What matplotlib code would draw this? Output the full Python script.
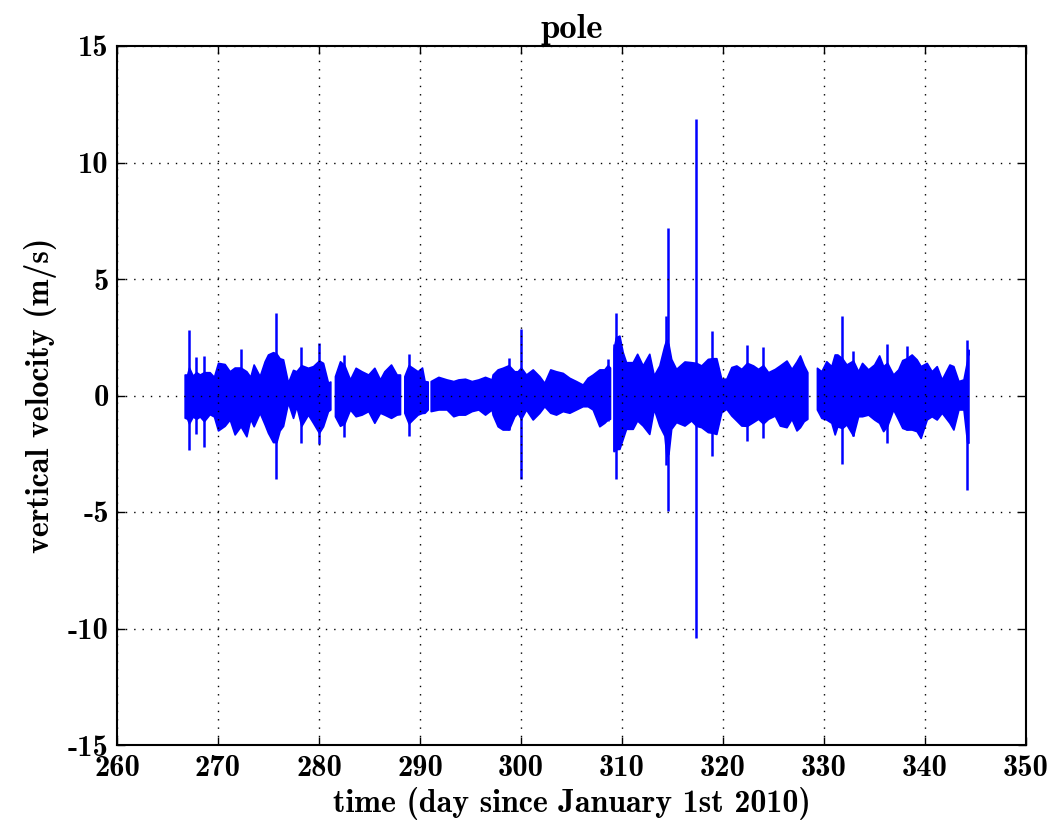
import numpy as np
import matplotlib
matplotlib.use("Agg")
import matplotlib.pyplot as plt

# ---- data (day, upper envelope, lower envelope) ----
env_t = [266.70, 266.95, 267.13, 267.50, 267.85, 268.20, 268.61, 269.17, 269.60, 270.00,
         270.66, 271.16, 271.65, 272.24, 272.81, 273.20, 273.53, 274.13, 274.62, 274.95,
         275.45, 275.78, 276.10, 276.44, 276.93, 277.43, 277.76, 278.25, 278.91, 279.41,
         280.00, 280.40, 280.89, 281.12,
         281.58, 282.08, 282.51, 283.07, 283.63, 284.22, 284.88, 285.48, 286.04, 286.47,
         287.13, 287.69, 288.02,
         288.45, 288.88, 289.27, 289.77, 290.20, 290.45, 290.76,
         291.06, 291.82, 292.64, 293.30, 293.80, 294.46, 295.12, 295.78, 296.44, 297.10,
         297.19, 297.69, 298.18, 298.78, 299.34, 299.67, 300.00, 300.50, 301.16, 301.82,
         302.31, 302.90, 303.47, 304.13, 304.79, 305.45, 306.11, 306.60, 307.10, 307.76,
         308.25, 308.58, 308.81,
         309.17, 309.40, 309.74, 310.07, 310.40, 311.06, 311.50, 312.05, 312.70, 313.15,
         313.70, 314.20, 314.40, 314.60, 314.87, 315.36, 316.19, 316.85, 317.35, 317.85,
         318.50, 318.94, 319.34, 319.83, 320.33, 320.83, 321.32, 321.82, 322.38, 322.98,
         323.48, 323.97, 324.47, 325.13, 325.63, 326.29, 326.79, 327.28, 327.62, 328.00,
         328.35,
         329.30, 329.74, 330.23, 330.73, 331.06, 331.32, 331.79, 332.22, 332.88, 333.38,
         333.77, 334.37, 334.97, 335.46, 335.86, 336.26, 336.85, 337.35, 337.75, 338.18,
         338.68, 339.17, 339.57, 340.17, 340.66, 341.16, 341.66, 342.42, 342.81, 343.31,
         343.81, 344.17, 344.30]
env_up = [0.90, 0.90, 1.20, 0.85, 1.00, 0.90, 1.00, 1.00, 0.80, 1.40,
          1.35, 1.04, 1.20, 1.20, 1.04, 0.80, 1.33, 0.83, 1.47, 1.76,
          1.86, 1.80, 1.60, 1.55, 0.55, 1.10, 1.04, 1.30, 1.19, 1.26,
          1.50, 1.40, 0.55, 0.60,
          0.83, 1.47, 1.30, 0.69, 1.19, 1.04, 0.90, 1.19, 0.69, 1.04,
          1.33, 0.90, 0.90,
          0.83, 1.30, 1.19, 1.04, 1.20, 0.62, 0.60,
          0.62, 0.80, 0.69, 0.62, 0.69, 0.72, 0.62, 0.69, 0.80, 0.69,
          0.90, 1.12, 1.19, 1.30, 1.04, 1.04, 1.20, 0.90, 1.12, 0.83,
          0.54, 1.12, 1.04, 0.97, 0.76, 0.62, 0.47, 0.76, 0.90, 1.12,
          1.12, 1.30, 1.20,
          2.00, 2.50, 2.57, 1.86, 1.43, 1.43, 1.79, 1.29, 1.79, 0.86,
          1.29, 2.15, 2.40, 2.20, 1.57, 1.14, 1.46, 1.43, 1.40, 1.29,
          1.57, 1.60, 1.60, 0.72, 0.72, 1.22, 1.29, 1.14, 1.40, 1.29,
          1.14, 1.30, 1.00, 1.14, 1.29, 1.50, 1.14, 1.46, 1.72, 1.30,
          1.00,
          1.19, 1.04, 1.47, 1.26, 1.76, 1.76, 1.60, 1.33, 1.50, 1.04,
          1.40, 1.12, 1.33, 1.72, 1.26, 1.40, 0.90, 1.12, 1.52, 1.60,
          1.76, 1.55, 1.26, 1.40, 1.04, 1.26, 0.69, 1.33, 1.26, 0.62,
          0.69, 1.50, 1.97]
env_lo = [-0.95, -1.00, -1.20, -0.90, -1.00, -0.90, -1.10, -0.80, -0.90, -1.50,
          -1.30, -1.03, -1.67, -1.32, -1.75, -1.00, -1.32, -0.74, -1.24, -1.60,
          -2.00, -2.00, -1.50, -1.30, -0.30, -0.96, -0.46, -1.30, -0.82, -1.17,
          -1.60, -1.32, -0.67, -0.60,
          -0.89, -1.30, -1.20, -0.60, -0.89, -0.82, -0.67, -1.17, -0.74, -0.82,
          -0.96, -0.82, -0.80,
          -0.74, -1.20, -1.03, -0.82, -0.75, -0.74, -0.60,
          -0.67, -0.60, -0.60, -0.89, -0.82, -0.82, -0.67, -0.60, -0.82, -0.60,
          -0.82, -1.32, -1.46, -1.46, -0.89, -0.74, -1.00, -0.60, -1.03, -0.74,
          -0.46, -0.74, -0.82, -0.67, -0.74, -0.60, -0.46, -0.46, -0.60, -1.32,
          -1.17, -1.03, -1.00,
          -2.39, -2.30, -2.29, -1.86, -1.43, -1.43, -1.07, -1.29, -1.65, -0.57,
          -1.29, -1.72, -2.60, -2.50, -1.43, -1.14, -1.29, -1.07, -1.30, -1.36,
          -1.57, -1.60, -1.65, -0.72, -0.57, -0.86, -1.07, -1.29, -1.30, -1.14,
          -1.00, -1.20, -1.00, -0.86, -1.29, -1.36, -1.00, -1.50, -1.36, -1.10,
          -1.00,
          -0.60, -0.96, -1.03, -1.17, -1.67, -1.32, -1.40, -1.24, -1.72, -0.89,
          -0.89, -0.82, -1.03, -1.17, -1.53, -1.30, -0.60, -1.03, -1.39, -1.46,
          -1.46, -1.53, -1.82, -1.03, -0.89, -1.03, -0.74, -1.17, -1.46, -0.60,
          -0.60, -2.00, -2.03]

# recording segments (start day, end day)
seg_start = [266.70, 281.58, 288.45, 291.06, 309.17, 329.30]
seg_end = [281.12, 288.02, 290.76, 308.81, 328.35, 344.30]

# isolated spikes (day, max, min)
spike_t = [267.13, 267.85, 268.61, 272.24, 275.78, 278.25, 280.00, 282.51, 288.88,
           298.78, 300.00, 308.58, 309.25, 309.40, 314.40, 314.60, 317.35, 318.94,
           322.38, 323.97, 331.79, 332.88, 336.26, 338.18, 344.17]
spike_up = [2.80, 1.66, 1.70, 2.00, 3.55, 2.07, 2.26, 1.75, 1.79,
            1.62, 2.86, 1.57, 2.20, 3.55, 3.43, 7.18, 11.87, 2.75,
            2.17, 2.10, 3.40, 1.90, 2.23, 2.12, 2.37]
spike_lo = [-2.35, -1.67, -2.20, -1.30, -3.60, -2.03, -2.10, -1.77, -1.74,
            -1.46, -3.60, -1.10, -2.40, -3.60, -3.00, -4.96, -10.41, -2.60,
            -1.97, -1.83, -2.92, -1.72, -2.06, -1.46, -4.06]

x_ticks = [260, 270, 280, 290, 300, 310, 320, 330, 340, 350]
y_ticks = [-15, -10, -5, 0, 5, 10, 15]

# ---- plotting ----
plt.rcParams['font.family'] = ['cmb10', 'DejaVu Serif']
plt.rcParams['axes.unicode_minus'] = False
plt.rcParams['mathtext.fontset'] = 'cm'

fig = plt.figure(figsize=(10.53, 8.24), dpi=100)
ax = fig.add_axes([117/1053, 1 - 745/824, (1026-117)/1053, (745-46)/824])

blue = (0, 0, 1)
t = np.array(env_t)
up = np.array(env_up)
lo = np.array(env_lo)
for s, e in zip(seg_start, seg_end):
    m = (t >= s - 1e-6) & (t <= e + 1e-6)
    ax.fill_between(t[m], lo[m], up[m], color=blue, linewidth=1.2, edgecolor=blue)
ax.vlines(spike_t, spike_lo, spike_up, color=blue, linewidth=1.8)

ax.set_xlim(260, 350)
ax.set_ylim(-15, 15)
ax.set_xticks(x_ticks)
ax.set_yticks(y_ticks)
ax.set_xticklabels([str(v) for v in x_ticks])
ax.set_yticklabels([str(v) for v in y_ticks])
ax.tick_params(direction='in', length=6, width=1, top=True, right=True,
               labelsize=22)
ax.tick_params(axis='x', pad=7)
ax.tick_params(axis='y', pad=6)
ax.grid(True, color='black', linestyle=(0, (1, 5)), linewidth=1.0)
ax.set_axisbelow(False)
for sp in ax.spines.values():
    sp.set_linewidth(1.5)

ax.set_xlabel('time (day since January 1st 2010)', fontsize=23, labelpad=4)
ax.set_ylabel('vertical velocity (m/s)', fontsize=23, labelpad=8)
ax.set_title('pole', fontsize=25, pad=6)

fig.savefig('out.png', dpi=100)
